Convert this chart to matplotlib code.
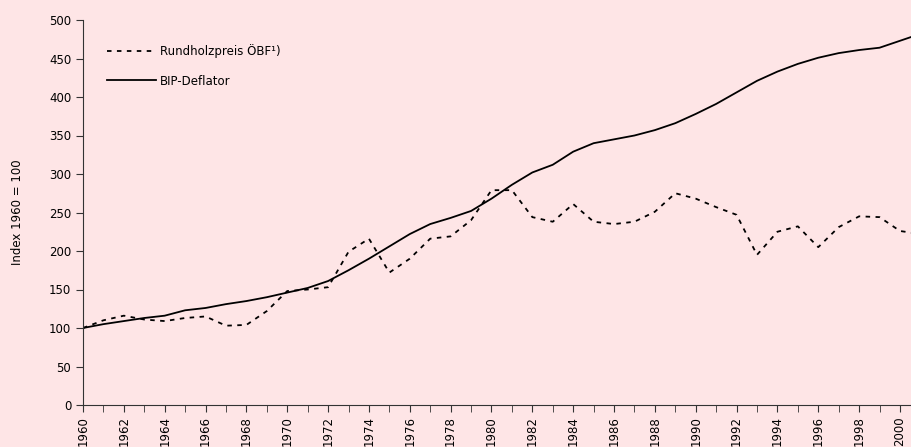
import numpy as np
import matplotlib.pyplot as plt

years = list(range(1960, 2002))
rundholz = [100, 110, 116, 111, 109, 113, 115, 103, 104, 122,
            148, 150, 153, 199, 216, 172, 190, 216, 219, 240,
            279, 279, 244, 238, 261, 238, 235, 238, 251, 275,
            268, 257, 247, 195, 225, 232, 205, 231, 245, 244,
            226, 222]
bip = [100, 105, 109, 113, 116, 123, 126, 131, 135, 140,
       146, 152, 161, 175, 190, 206, 222, 235, 243, 252,
       268, 286, 302, 312, 329, 340, 345, 350, 357, 366,
       378, 391, 406, 421, 433, 443, 451, 457, 461, 464,
       473, 482]

bg = '#FEE5E6'
plt.rcParams['font.family'] = ['DejaVu Sans']

fig = plt.figure(figsize=(9.11, 4.47), dpi=100, facecolor=bg)
ax = fig.add_axes([83/911, 42/447, 1 - 83/911, 385/447])
ax.set_facecolor(bg)

ax.plot(years, rundholz, color='black', lw=1.3, ls=(0, (2.5, 3)), label='Rundholzpreis ÖBF¹)')
ax.plot(years, bip, color='black', lw=1.3, label='BIP-Deflator')

ax.set_xlim(1960, 2000.54)
ax.set_ylim(0, 500)
ax.set_yticks(np.arange(0, 501, 50))
ax.set_xticks(range(1960, 2001), minor=True)
ax.set_xticks(range(1960, 2001, 2))
ax.tick_params(axis='x', which='both', length=5, direction='out', color='#333333')
ax.tick_params(axis='x', labelrotation=90, labelsize=8.5, pad=3)
ax.tick_params(axis='y', length=5, color='#333333', labelsize=8.5)
for s in ['top', 'right']:
    ax.spines[s].set_visible(False)
for s in ['left', 'bottom']:
    ax.spines[s].set_color('#333333')
ax.set_ylabel('Index 1960 = 100', fontsize=8.5, labelpad=18)

ax.legend(loc='upper left', bbox_to_anchor=(0.016, 0.965), frameon=False,
          fontsize=8.5, handlelength=4.2, handletextpad=0.3, labelspacing=1.4)

fig.savefig('out.png', dpi=100, facecolor=bg)
